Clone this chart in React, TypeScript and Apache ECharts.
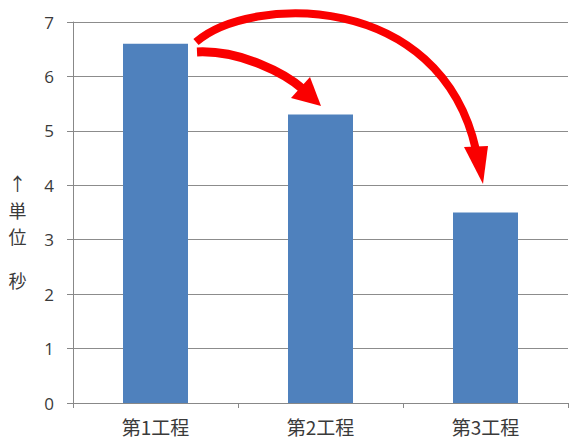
import React, { useEffect, useRef } from "react";
import * as echarts from "echarts";

const categories = ["第1工程", "第2工程", "第3工程"];
const values = [6.6, 5.3, 3.5];
const yMin = 0;
const yMax = 7;
const yInterval = 1;
const axisNameTop = "↑\n単\n位";
const axisNameBottom = "秒";

export default function App() {
  const ref = useRef<HTMLDivElement>(null);
  useEffect(() => {
    if (!ref.current) return;
    const chart = echarts.init(ref.current, undefined, { renderer: "svg" });
    const red = "#fa0000";
    chart.setOption({
      animation: false,
      backgroundColor: "#ffffff",
      grid: { left: 73, right: 1, top: 22, bottom: 36, containLabel: false },
      xAxis: {
        type: "category",
        data: categories,
        axisLine: { show: true, lineStyle: { color: "#888888", width: 1 } },
        axisTick: { show: true, length: 5, alignWithLabel: false, lineStyle: { color: "#888888" } },
        axisLabel: {
          color: "#3a3a3a",
          fontSize: 19,
          lineHeight: 19,
          margin: 14,
          fontFamily: "Noto Sans CJK JP",
        },
        splitLine: { show: false },
      },
      yAxis: {
        type: "value",
        min: yMin,
        max: yMax,
        interval: yInterval,
        axisLine: { show: true, lineStyle: { color: "#888888", width: 1 } },
        axisTick: { show: true, length: 6, lineStyle: { color: "#888888" } },
        axisLabel: {
          color: "#3a3a3a",
          fontSize: 17,
          margin: 19,
          fontFamily: "Open Sans",
        },
        splitLine: { show: true, lineStyle: { color: "#8c8c8c", width: 1 } },
      },
      series: [
        {
          type: "bar",
          data: values,
          barWidth: 65,
          itemStyle: { color: "#4f81bd" },
        },
      ],
      graphic: [
        {
          type: "text",
          x: 17.5,
          y: 170,
          style: {
            text: axisNameTop,
            fontSize: 18,
            lineHeight: 26.5,
            fill: "#3a3a3a",
            fontFamily: "Noto Sans CJK JP",
            align: "center",
            verticalAlign: "top",
          },
        },
        {
          type: "text",
          x: 17.5,
          y: 271,
          style: {
            text: axisNameBottom,
            fontSize: 18,
            lineHeight: 18,
            fill: "#3a3a3a",
            fontFamily: "Noto Sans CJK JP",
            align: "center",
            verticalAlign: "top",
          },
        },
        {
          type: "bezierCurve",
          shape: { x1: 197, y1: 52, cpx1: 240, cpy1: 50, cpx2: 285, cpy2: 73, x2: 304, y2: 90 },
          style: { stroke: red, lineWidth: 9, fill: null, lineCap: "butt" },
          z: 100,
        },
        {
          type: "polygon",
          shape: { points: [[291, 98], [321, 106], [310, 77]] },
          style: { fill: red },
          z: 100,
        },
        {
          type: "bezierCurve",
          shape: { x1: 196, y1: 42, cpx1: 250, cpy1: -5, cpx2: 440, cpy2: -10, x2: 476, y2: 150 },
          style: { stroke: red, lineWidth: 8, fill: null, lineCap: "butt" },
          z: 100,
        },
        {
          type: "polygon",
          shape: { points: [[464, 147], [483, 184], [488, 146]] },
          style: { fill: red },
          z: 100,
        },
      ],
    });
    return () => chart.dispose();
  }, []);
  return (
    <div
      ref={ref}
      style={{ position: "absolute", left: 0, top: 0, width: 569, height: 439 }}
    />
  );
}
